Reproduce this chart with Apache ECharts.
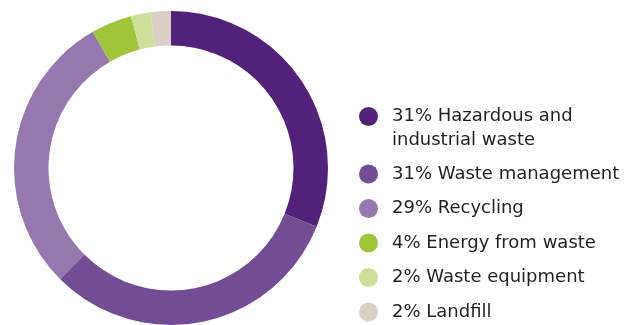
<!DOCTYPE html>
<html>
<head>
<meta charset="utf-8">
<script src="https://cdn.jsdelivr.net/npm/echarts@6/dist/echarts.min.js"></script>
<style>
  html, body { margin: 0; padding: 0; background: #ffffff; }
  #chart { width: 638px; height: 325px; }
</style>
</head>
<body>
<div id="chart"></div>
<script>
const categories = [
  'Hazardous and industrial waste',
  'Waste management',
  'Recycling',
  'Energy from waste',
  'Waste equipment',
  'Landfill'
];
const values = [31.1, 31.4, 29.2, 4.2, 2.0, 2.1];
const percentLabels = ['31%', '31%', '29%', '4%', '2%', '2%'];
const legendLines = [
  ['31% Hazardous and', 'industrial waste'],
  ['31% Waste management'],
  ['29% Recycling'],
  ['4% Energy from waste'],
  ['2% Waste equipment'],
  ['2% Landfill']
];
const colors = ['#52217a', '#734d94', '#9579ae', '#a0c43a', '#cde09a', '#d9cfc5'];

const chart = echarts.init(document.getElementById('chart'), null, { renderer: 'canvas' });

const data = categories.map((name, i) => ({
  name: name,
  value: values[i],
  itemStyle: { color: colors[i] }
}));

chart.setOption({
  animation: false,
  backgroundColor: '#ffffff',
  legend: {
    orient: 'vertical',
    left: 359,
    top: 84,
    padding: 0,
    itemGap: 15.5,
    itemWidth: 37,
    itemHeight: 19,
    icon: 'circle',
    selectedMode: false,
    data: categories,
    formatter: function (name) {
      const i = categories.indexOf(name);
      const lines = legendLines[i];
      if (lines.length > 1) {
        return '{b| }\n{a|' + lines[0] + '}\n{c|' + lines[1] + '}';
      }
      return '{a|' + lines[0] + '}';
    },
    textStyle: {
      fontFamily: 'DejaVu Sans',
      fontSize: 18,
      color: '#231f20',
      rich: {
        a: { fontFamily: 'DejaVu Sans', fontSize: 18, color: '#231f20', lineHeight: 26 },
        b: { fontFamily: 'DejaVu Sans', fontSize: 18, color: '#231f20', lineHeight: 21 },
        c: { fontFamily: 'DejaVu Sans', fontSize: 18, color: '#231f20', lineHeight: 21 }
      }
    }
  },
  series: [{
    type: 'pie',
    center: [171, 168],
    radius: [122.5, 157],
    startAngle: 90,
    clockwise: true,
    avoidLabelOverlap: false,
    label: { show: false },
    labelLine: { show: false },
    emphasis: { disabled: true },
    itemStyle: { borderWidth: 0 },
    data: data
  }]
});
</script>
</body>
</html>
